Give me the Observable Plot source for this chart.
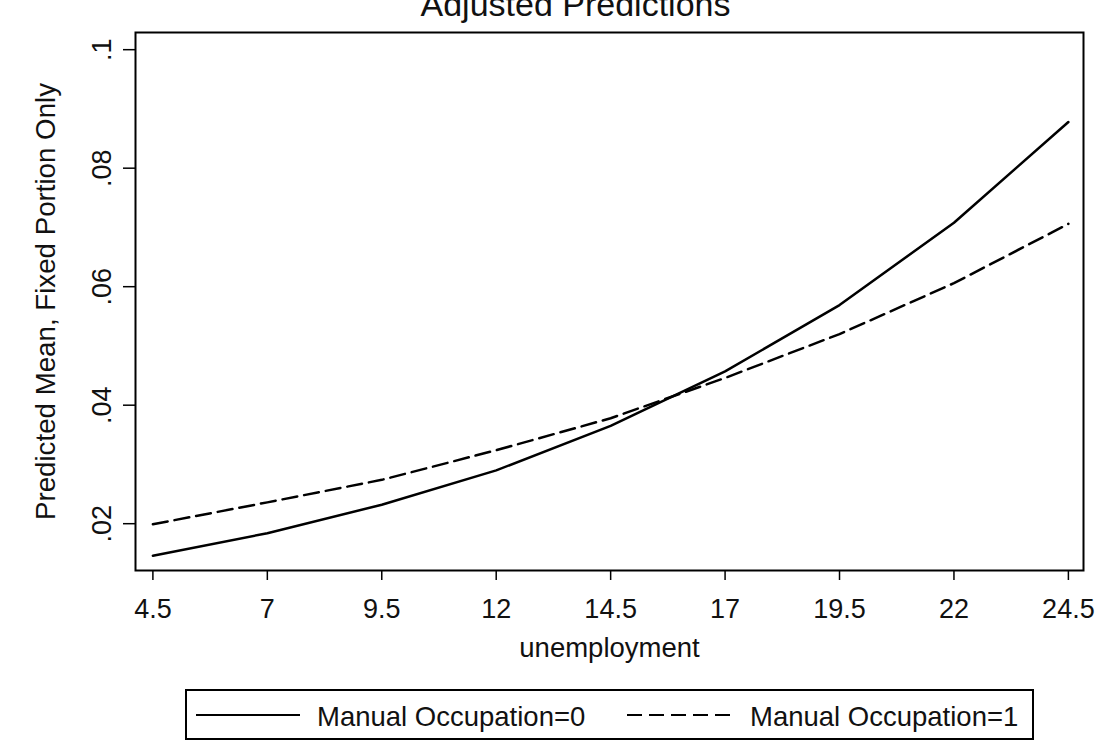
<!DOCTYPE html>
<html>
<head>
<meta charset="utf-8">
<script src="https://cdn.jsdelivr.net/npm/d3@7"></script>
<script src="https://cdn.jsdelivr.net/npm/@observablehq/plot@0.6"></script>
<style>
  html, body { margin: 0; padding: 0; background: #fff; }
  #wrap { position: relative; width: 1107px; height: 753px; overflow: hidden; font-family: "Liberation Sans", Arial, Helvetica, sans-serif; }
  #legend { position: absolute; left: 185px; top: 689px; }
</style>
</head>
<body>
<div id="wrap">
  <div id="chart"></div>
  <div id="legend"></div>
</div>
<script>
// ---- data ----
const unemployment = [4.5, 7, 9.5, 12, 14.5, 17, 19.5, 22, 24.5];
const manualOcc0 = [0.0146, 0.0184, 0.0232, 0.0290, 0.0365, 0.0457, 0.0569, 0.0708, 0.0878];
const manualOcc1 = [0.0199, 0.0236, 0.0274, 0.0324, 0.0378, 0.0446, 0.0520, 0.0606, 0.0706];
const seriesNames = ["Manual Occupation=0", "Manual Occupation=1"];
const xTicks = [4.5, 7, 9.5, 12, 14.5, 17, 19.5, 22, 24.5];
const yTicks = [0.02, 0.04, 0.06, 0.08, 0.1];
const titleText = "Adjusted Predictions";
const xLabel = "unemployment";
const yLabel = "Predicted Mean, Fixed Portion Only";

const rows0 = unemployment.map((u, i) => ({u, v: manualOcc0[i]}));
const rows1 = unemployment.map((u, i) => ({u, v: manualOcc1[i]}));
const yFmt = d => String(+d.toFixed(2)).replace(/^0/, "");
const FONT = "'Liberation Sans', Arial, Helvetica, sans-serif";
const DASH = "15,7";

const chart = Plot.plot({
  width: 1107,
  height: 670,
  marginLeft: 135,
  marginRight: 24,
  marginTop: 32,
  marginBottom: 100,
  style: {fontFamily: FONT, background: "white", color: "#000", overflow: "visible"},
  x: {domain: [4.12, 24.83]},
  y: {domain: [0.0121, 0.1029]},
  marks: [
    Plot.axisX(xTicks, {tickSize: 10, tickPadding: 18, fontSize: 27, strokeWidth: 1.5, tickFormat: d => String(d), label: null, fill: "#111"}),
    Plot.axisY(yTicks, {tickSize: 12, strokeWidth: 1.5, tickFormat: () => "", label: null}),
    Plot.text(yTicks, {y: d => d, text: yFmt, frameAnchor: "left", dx: -33, rotate: -90, fontSize: 27, textAnchor: "middle", lineAnchor: "middle", fill: "#111"}),
    Plot.text([yLabel], {frameAnchor: "left", dx: -89, rotate: -90, fontSize: 27.7, textAnchor: "middle", lineAnchor: "middle", fill: "#111"}),
    Plot.text([xLabel], {frameAnchor: "bottom", dy: 78, fontSize: 27.5, lineAnchor: "middle", fill: "#111"}),
    Plot.text([titleText], {frameAnchor: "top", dx: -34, dy: -27, fontSize: 34, lineAnchor: "middle", fill: "#111"}),
    Plot.line(rows0, {x: "u", y: "v", stroke: "#000", strokeWidth: 2.5}),
    Plot.line(rows1, {x: "u", y: "v", stroke: "#000", strokeWidth: 2.5, strokeDasharray: DASH}),
    Plot.frame({stroke: "#000", strokeWidth: 2})
  ]
});
document.getElementById("chart").appendChild(chart);

// ---- legend ----
const lw = 849, lh = 51;
const leg = d3.select("#legend").append("svg")
  .attr("width", lw).attr("height", lh)
  .style("display", "block")
  .style("font-family", FONT);
leg.append("rect").attr("x", 1).attr("y", 1).attr("width", lw - 2).attr("height", lh - 2)
  .attr("fill", "white").attr("stroke", "#000").attr("stroke-width", 2);
const items = [
  {name: seriesNames[0], x0: 11, x1: 115, tx: 132, dash: null},
  {name: seriesNames[1], x0: 442, x1: 547, tx: 565, dash: DASH}
];
for (const it of items) {
  leg.append("line").attr("x1", it.x0).attr("x2", it.x1).attr("y1", 26).attr("y2", 26)
    .attr("stroke", "#000").attr("stroke-width", 2).attr("stroke-dasharray", it.dash);
  leg.append("text").attr("x", it.tx).attr("y", 27).attr("dy", "0.36em")
    .attr("font-size", 27.5).attr("fill", "#111").text(it.name);
}
</script>
</body>
</html>
